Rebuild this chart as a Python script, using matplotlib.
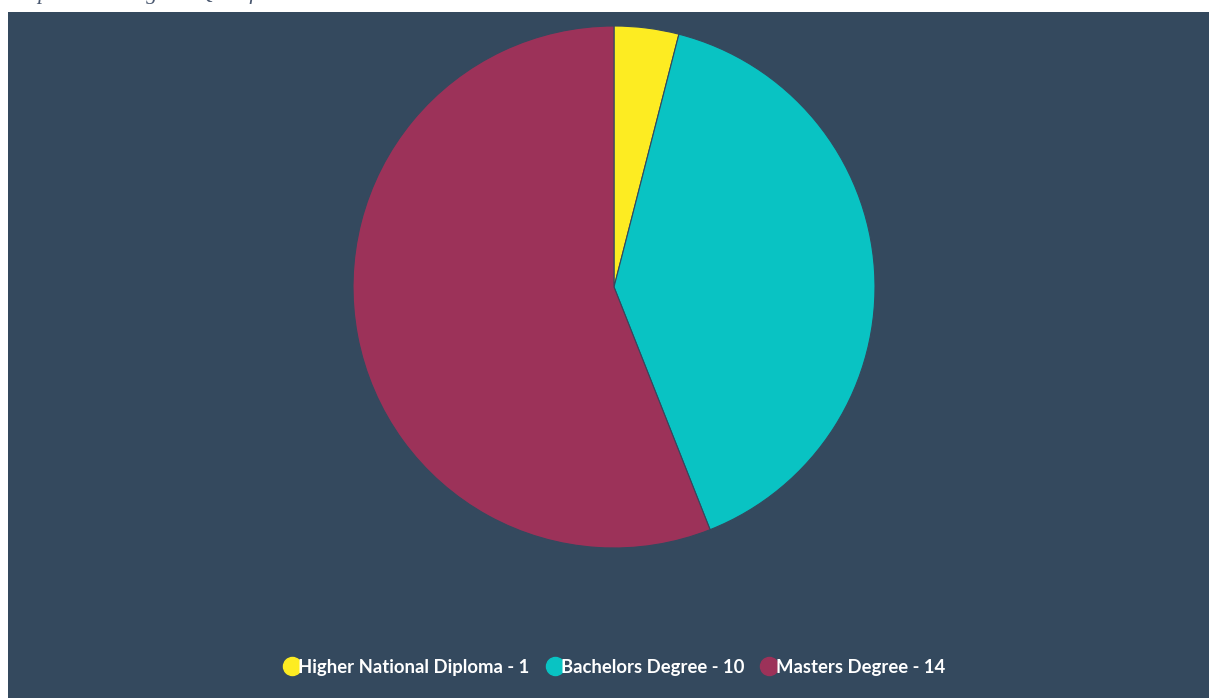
import matplotlib
matplotlib.use("Agg")
import matplotlib.pyplot as plt
from matplotlib.lines import Line2D

# Data
categories = ["Higher National Diploma", "Bachelors Degree", "Masters Degree"]
counts = [1, 10, 14]
colors = ["#fdec22", "#09c3c3", "#9c3259"]
title = "Respondents Highest Qualification"

W, H = 1209, 698
fig = plt.figure(figsize=(W / 100, H / 100), dpi=100, facecolor="white")

# Dark panel behind the chart
panel_color = "#34495e"
bg = fig.add_axes([8 / W, 0, 1 - 8 / W, 1 - 12 / H], zorder=0)
bg.set_facecolor(panel_color)
bg.set_xticks([])
bg.set_yticks([])
for s in bg.spines.values():
    s.set_visible(False)

# Page heading (sits mostly above the visible area)
fig.text(6 / W, 1 + 1 / H, title, fontsize=16, fontstyle="italic",
         family="Liberation Serif", color="#4a5870", va="baseline", ha="left")

# Pie
cx, cy, r = 614, 287, 261
ax = fig.add_axes([(cx - r) / W, (H - cy - r) / H, 2 * r / W, 2 * r / H], zorder=1)
ax.pie(counts, colors=colors, startangle=90, counterclock=False, radius=1,
       wedgeprops=dict(edgecolor=panel_color, linewidth=0.8))
ax.set_xlim(-1, 1)
ax.set_ylim(-1, 1)
ax.set_aspect("auto")
ax.axis("off")

# Legend
handles = [Line2D([], [], marker="o", linestyle="none", markersize=13,
                  markerfacecolor=c, markeredgecolor=c) for c in colors]
labels = [f"{n} - {v}" for n, v in zip(categories, counts)]
leg = fig.legend(handles, labels, loc="center", bbox_to_anchor=(613 / W, 1 - 667 / H),
                 ncol=3, frameon=False, handletextpad=-0.25, columnspacing=0.75,
                 handlelength=1.2,
                 prop=dict(family="Lato", weight="bold", size=13.3))
leg.set_zorder(2)
for t in leg.get_texts():
    t.set_color("white")

fig.savefig("out.png", dpi=100, facecolor="white")
